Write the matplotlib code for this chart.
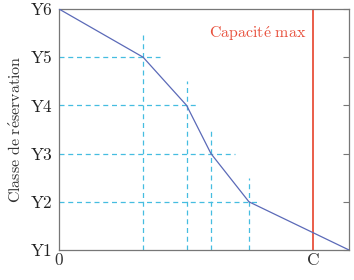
import matplotlib
matplotlib.use("Agg")
import matplotlib.pyplot as plt

# booking-limit curve (x in arbitrary seat units, y = class index)
curve_x = [0, 29.0, 44.0, 52.4, 65.5, 100]
curve_y = [6, 5, 4, 3, 2, 1]

# dashed guide lines at each kink: horizontal end, vertical top
kink_x = [29.0, 44.0, 52.4, 65.5]
kink_y = [5, 4, 3, 2]
h_end = [34.8, 47.9, 60.7, 68.3]
v_top = [5.5, 4.5, 3.5, 2.5]

capacity = 87.6
y_ticks = [1, 2, 3, 4, 5, 6]
y_labels = ["Y1", "Y2", "Y3", "Y4", "Y5", "Y6"]
x_ticks = [0, capacity]
x_labels = ["0", "C"]

plt.rcParams["font.family"] = ["cmr10", "DejaVu Serif"]
plt.rcParams["mathtext.fontset"] = "cm"
plt.rcParams["axes.formatter.use_mathtext"] = True

BLUE = "#5b6ab8"
CYAN = "#45bde0"
RED = "#e8503c"
GRAY = "#777777"

fig = plt.figure(figsize=(3.54, 2.8), dpi=100)
ax = fig.add_axes([59 / 354, 1 - 250 / 280, 290 / 354, 241 / 280])

for kx, ky, he, vt in zip(kink_x, kink_y, h_end, v_top):
    ax.plot([0, he], [ky, ky], color=CYAN, lw=0.9, ls=(0, (4, 3)), zorder=1)
    ax.plot([kx, kx], [1, vt], color=CYAN, lw=0.9, ls=(0, (4, 3)), zorder=1)

ax.plot(curve_x, curve_y, color=BLUE, lw=0.9, zorder=3)
ax.axvline(capacity, color=RED, lw=1.3, zorder=2)
ax.text(capacity - 2.3, 5.5, r"$\mathrm{Capacit\acute{e}\ max}$", color=RED,
        fontsize=11.5, ha="right", va="center")

ax.set_xlim(0, 100)
ax.set_ylim(1, 6)
ax.set_xticks(x_ticks)
ax.set_xticklabels(x_labels, fontsize=12.5)
ax.set_yticks(y_ticks)
ax.set_yticklabels(y_labels, fontsize=12.5)
ax.tick_params(axis="x", length=0, pad=2, colors="#333333")
ax.tick_params(axis="y", left=False, right=True, direction="in", length=4,
               color=GRAY, pad=5, labelcolor="#222222")
for spine in ax.spines.values():
    spine.set_color(GRAY)
    spine.set_linewidth(0.9)

ax.set_ylabel(r"$\mathrm{Classe\ de\ r\acute{e}servation}$", fontsize=11.5,
              color="#333333", labelpad=5)
ax.set_xlabel(r"$\mathrm{Si\grave{e}ges\ vendus}$", fontsize=11.5,
              color="#333333", labelpad=11)

fig.savefig("out.png", dpi=100)
